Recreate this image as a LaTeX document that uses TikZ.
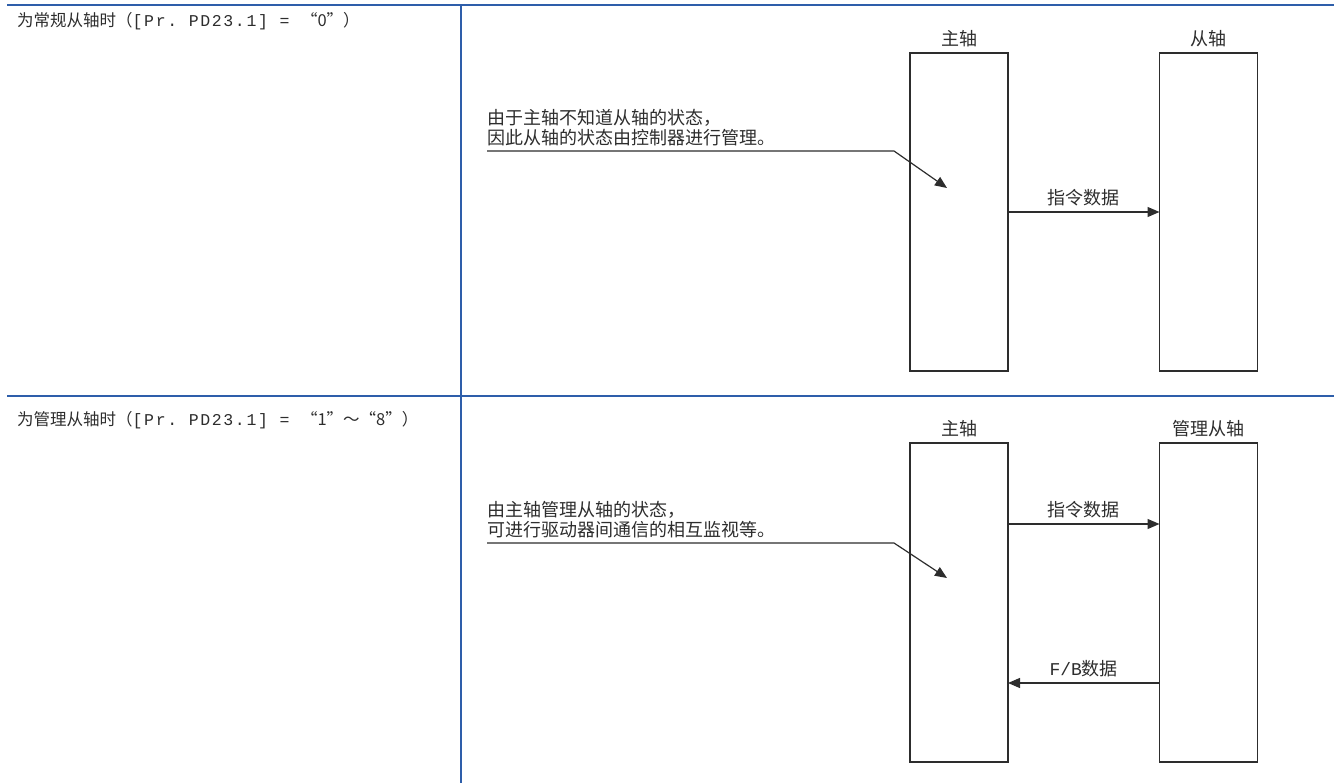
\documentclass[tikz,border=0pt]{standalone}
\usepackage{fontspec}
\setmainfont{Noto Sans CJK SC}
\newfontfamily\latinmono{Liberation Mono}
\newfontfamily\latinwide{Liberation Mono}[LetterSpace=10]
\usetikzlibrary{arrows.meta}
\definecolor{rulecol}{RGB}{46,94,170}
\definecolor{ink}{RGB}{45,45,45}
\begin{document}
\begin{tikzpicture}[x=1pt,y=-1pt,
  rule/.style={rulecol, line width=2.6pt},
  axisbox/.style={draw=ink, line width=1.2pt, minimum width=98pt, inner sep=0pt, outer sep=0pt},
  flow/.style={draw=ink, line width=1.2pt, -{Triangle[length=12pt,width=10pt]}},
  lbl/.style={font=\fontsize{18}{20}\selectfont, text=ink, inner sep=0pt},
  heading/.style={font=\fontsize{16.5}{18}\selectfont, text=ink, inner sep=0pt, anchor=west},
  note/.style={lbl, align=left, anchor=north west}]
\useasboundingbox (0,0) rectangle (1334,783);

% table rules
\draw[rule] (7,5) -- (1334,5);
\draw[rule] (7,396) -- (1334,396);
\draw[rule] (461,5) -- (461,783);

% row headings
\node[heading] (h1) at (17,21) {为常规从轴时（{\latinwide [Pr.\ PD23.1]\ =\ }“0”）};
\node[heading] (h2) at (17,420) {为管理从轴时（{\latinwide [Pr.\ PD23.1]\ =\ }“1”～“8”）};

% ---- normal slave ----
\node[axisbox, minimum height=318pt] (m1) at (959,212) {};
\node[axisbox, minimum height=318pt] (s1) at (1208.5,212) {};
\node[lbl] (m1t) at (959,39) {主轴};
\node[lbl] (s1t) at (1208.5,39) {从轴};

\draw[flow] (m1.east) -- node[lbl, above=5pt] (c1) {指令数据} (s1.west);

\node[note] (n1) at (487,109.5) {由于主轴不知道从轴的状态，\\因此从轴的状态由控制器进行管理。};
\coordinate (u1) at (487,151);
\coordinate (k1) at (894,151);
\coordinate (t1) at (947,188);
\draw[flow] (u1) -- (k1) -- (t1);

% ---- managed slave ----
\node[axisbox, minimum height=319pt] (m2) at (959,602.5) {};
\node[axisbox, minimum height=319pt] (s2) at (1208.5,602.5) {};
\node[lbl] (m2t) at (959,429) {主轴};
\node[lbl] (s2t) at (1208.5,429) {管理从轴};

\coordinate (cy) at (0,524);
\coordinate (fy) at (0,683);
\draw[flow] (m2.east |- cy) -- node[lbl, above=5pt] (c2) {指令数据} (s2.west |- cy);
\draw[flow] (s2.west |- fy) -- node[lbl, above=5pt] (fb) {{\latinmono F/B}数据} (m2.east |- fy);

\node[note] (n2) at (487,501.5) {由主轴管理从轴的状态，\\可进行驱动器间通信的相互监视等。};
\coordinate (u2) at (487,543);
\coordinate (k2) at (894,543);
\coordinate (t2) at (947,578);
\draw[flow] (u2) -- (k2) -- (t2);
\end{tikzpicture}
\end{document}
